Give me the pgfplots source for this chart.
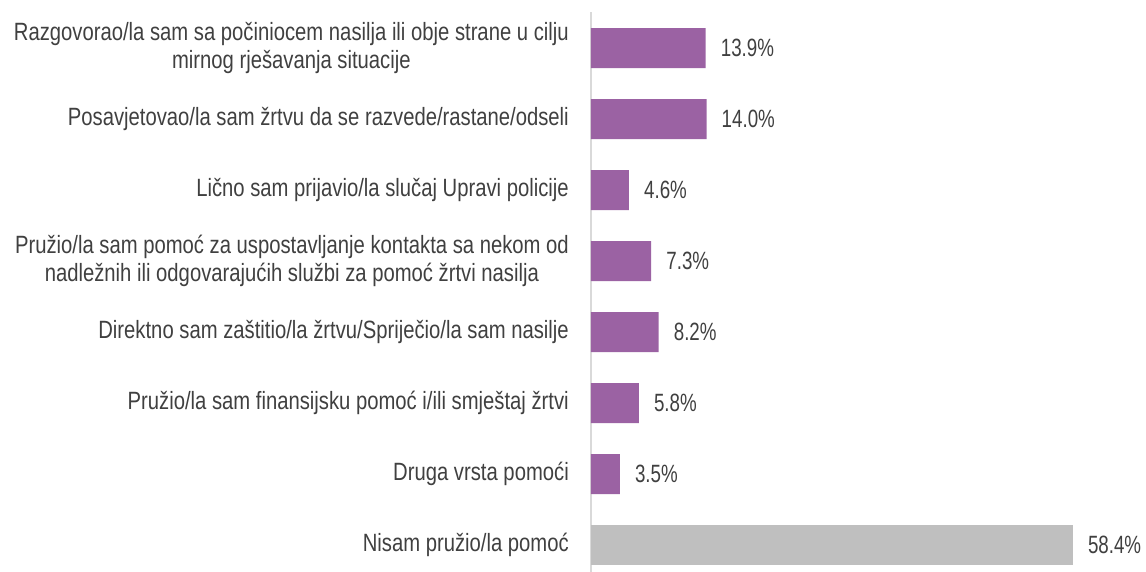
\documentclass[border=0pt]{standalone}
\usepackage{fontspec}
\setmainfont[FakeStretch=0.81]{Liberation Sans}
\newfontfamily\numfont[FakeStretch=0.75]{Liberation Sans}
\usepackage{pgfplots}
\pgfplotsset{compat=1.18}
\definecolor{bpurple}{HTML}{9B62A3}
\definecolor{bgray}{HTML}{BFBFBF}
\definecolor{axisgray}{HTML}{D9D9D9}
\definecolor{textgray}{HTML}{404040}
\begin{document}
\begin{tikzpicture}[x=1pt,y=1pt]
\useasboundingbox (0,-572) rectangle (1146,0);
\begin{axis}[
  at={(591pt,-12pt)}, anchor=north west,
  scale only axis, width=495pt, height=560pt,
  xmin=0, xmax=60, ymin=-0.507, ymax=7.38, y dir=reverse,
  xbar, bar width=40pt, bar shift=0pt, clip=false,
  axis x line=none, axis y line*=left,
  y axis line style={draw=axisgray, line width=1.5pt, -},
  ytick={0,...,7}, major tick length=0pt,
  yticklabels={{Razgovorao/la sam sa počiniocem nasilja ili obje strane u cilju\\mirnog rješavanja situacije},
    {Posavjetovao/la sam žrtvu da se razvede/rastane/odseli},
    {Lično sam prijavio/la slučaj Upravi policije},
    {Pružio/la sam pomoć za uspostavljanje kontakta sa nekom od\\nadležnih ili odgovarajućih službi za pomoć žrtvi nasilja},
    {Direktno sam zaštitio/la žrtvu/Spriječio/la sam nasilje},
    {Pružio/la sam finansijsku pomoć i/ili smještaj žrtvi},
    {Druga vrsta pomoći},
    {Nisam pružio/la pomoć}},
  yticklabel style={align=center, font=\fontsize{25}{28}\selectfont, text=textgray, inner sep=0pt, xshift=-22pt},
  nodes near coords={\pgfmathprintnumber[fixed,fixed zerofill,precision=1,assume math mode=true]{\pgfplotspointmeta}\%},
  nodes near coords style={font=\numfont\fontsize{25}{28}\selectfont, text=textgray, inner sep=0pt, anchor=west, xshift=15pt},
  point meta=explicit,
]
\addplot[fill=bpurple, draw=none] coordinates {(13.9,0) [13.9] (14.0,1) [14.0] (4.6,2) [4.6] (7.3,3) [7.3] (8.2,4) [8.2] (5.8,5) [5.8] (3.5,6) [3.5]};
\addplot[fill=bgray, draw=none] coordinates {(58.4,7) [58.4]};
\end{axis}
\end{tikzpicture}
\end{document}
